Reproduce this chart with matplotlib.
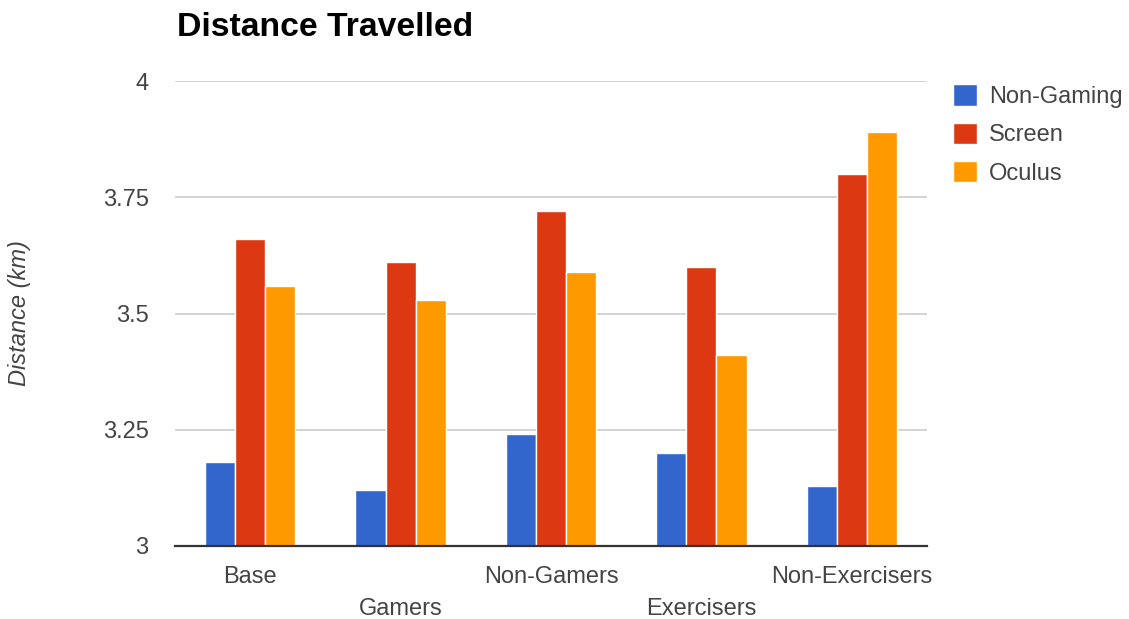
import numpy as np
import matplotlib
matplotlib.use("Agg")
import matplotlib.pyplot as plt

# Categories and series values (km)
categories = ["Base", "Gamers", "Non-Gamers", "Exercisers", "Non-Exercisers"]
series_names = ["Non-Gaming", "Screen", "Oculus"]
non_gaming = [3.18, 3.12, 3.24, 3.20, 3.13]
screen = [3.66, 3.61, 3.72, 3.60, 3.80]
oculus = [3.56, 3.53, 3.59, 3.41, 3.89]
y_ticks = [3, 3.25, 3.5, 3.75, 4]
y_tick_labels = ["3", "3.25", "3.5", "3.75", "4"]

colors = ["#3366CC", "#DC3912", "#FF9900"]
text_color = "#444444"
font = ["Liberation Sans", "DejaVu Sans"]
plt.rcParams["font.family"] = font
fs = 17

fig = plt.figure(figsize=(11.29, 6.19), dpi=100)
ax = fig.add_axes([175 / 1129, 1 - 546 / 619, 752 / 1129, 465 / 619])

x = np.arange(len(categories))
width = 0.2
for i, (vals, name, col) in enumerate(zip([non_gaming, screen, oculus], series_names, colors)):
    ax.bar(x + (i - 1) * width, np.array(vals) - 3, width, bottom=3, color=col,
           edgecolor="white", linewidth=1.0, label=name, zorder=3)

ax.set_xlim(-0.5, len(categories) - 0.5)
ax.set_ylim(3, 4)
ax.set_yticks(y_ticks)
ax.set_yticklabels(y_tick_labels)
ax.grid(axis="y", color="#d0d0d0", linewidth=1.3, zorder=0)
ax.tick_params(axis="y", length=0, pad=19, labelsize=fs, labelcolor=text_color)

ax.set_xticks(x)
ax.set_xticklabels(categories)
ax.tick_params(axis="x", length=0, labelsize=fs, labelcolor=text_color)
for i, tick in enumerate(ax.xaxis.get_major_ticks()):
    tick.set_pad(14.5 if i % 2 == 0 else 37.5)

for side in ["top", "right", "left"]:
    ax.spines[side].set_visible(False)
ax.spines["bottom"].set_color("#333333")
ax.spines["bottom"].set_linewidth(1.6)
ax.spines["bottom"].set_zorder(4)

fig.text(20 / 1129, 1 - 313 / 619, "Distance (km)", rotation=90, style="italic",
         fontsize=fs, color=text_color, ha="center", va="center")
fig.text(177 / 1129, 1 - 27 / 619, "Distance Travelled", fontsize=24.3,
         fontweight="bold", color="#000000", ha="left", va="center")

leg = fig.legend(loc="upper left", bbox_to_anchor=(944 / 1129, 1 - 75 / 619),
                 frameon=False, fontsize=fs, handlelength=1.0, handleheight=1.0,
                 handletextpad=0.5, labelspacing=0.62, borderaxespad=0)
for t in leg.get_texts():
    t.set_color(text_color)

fig.savefig("out.png", dpi=100, facecolor="white")
